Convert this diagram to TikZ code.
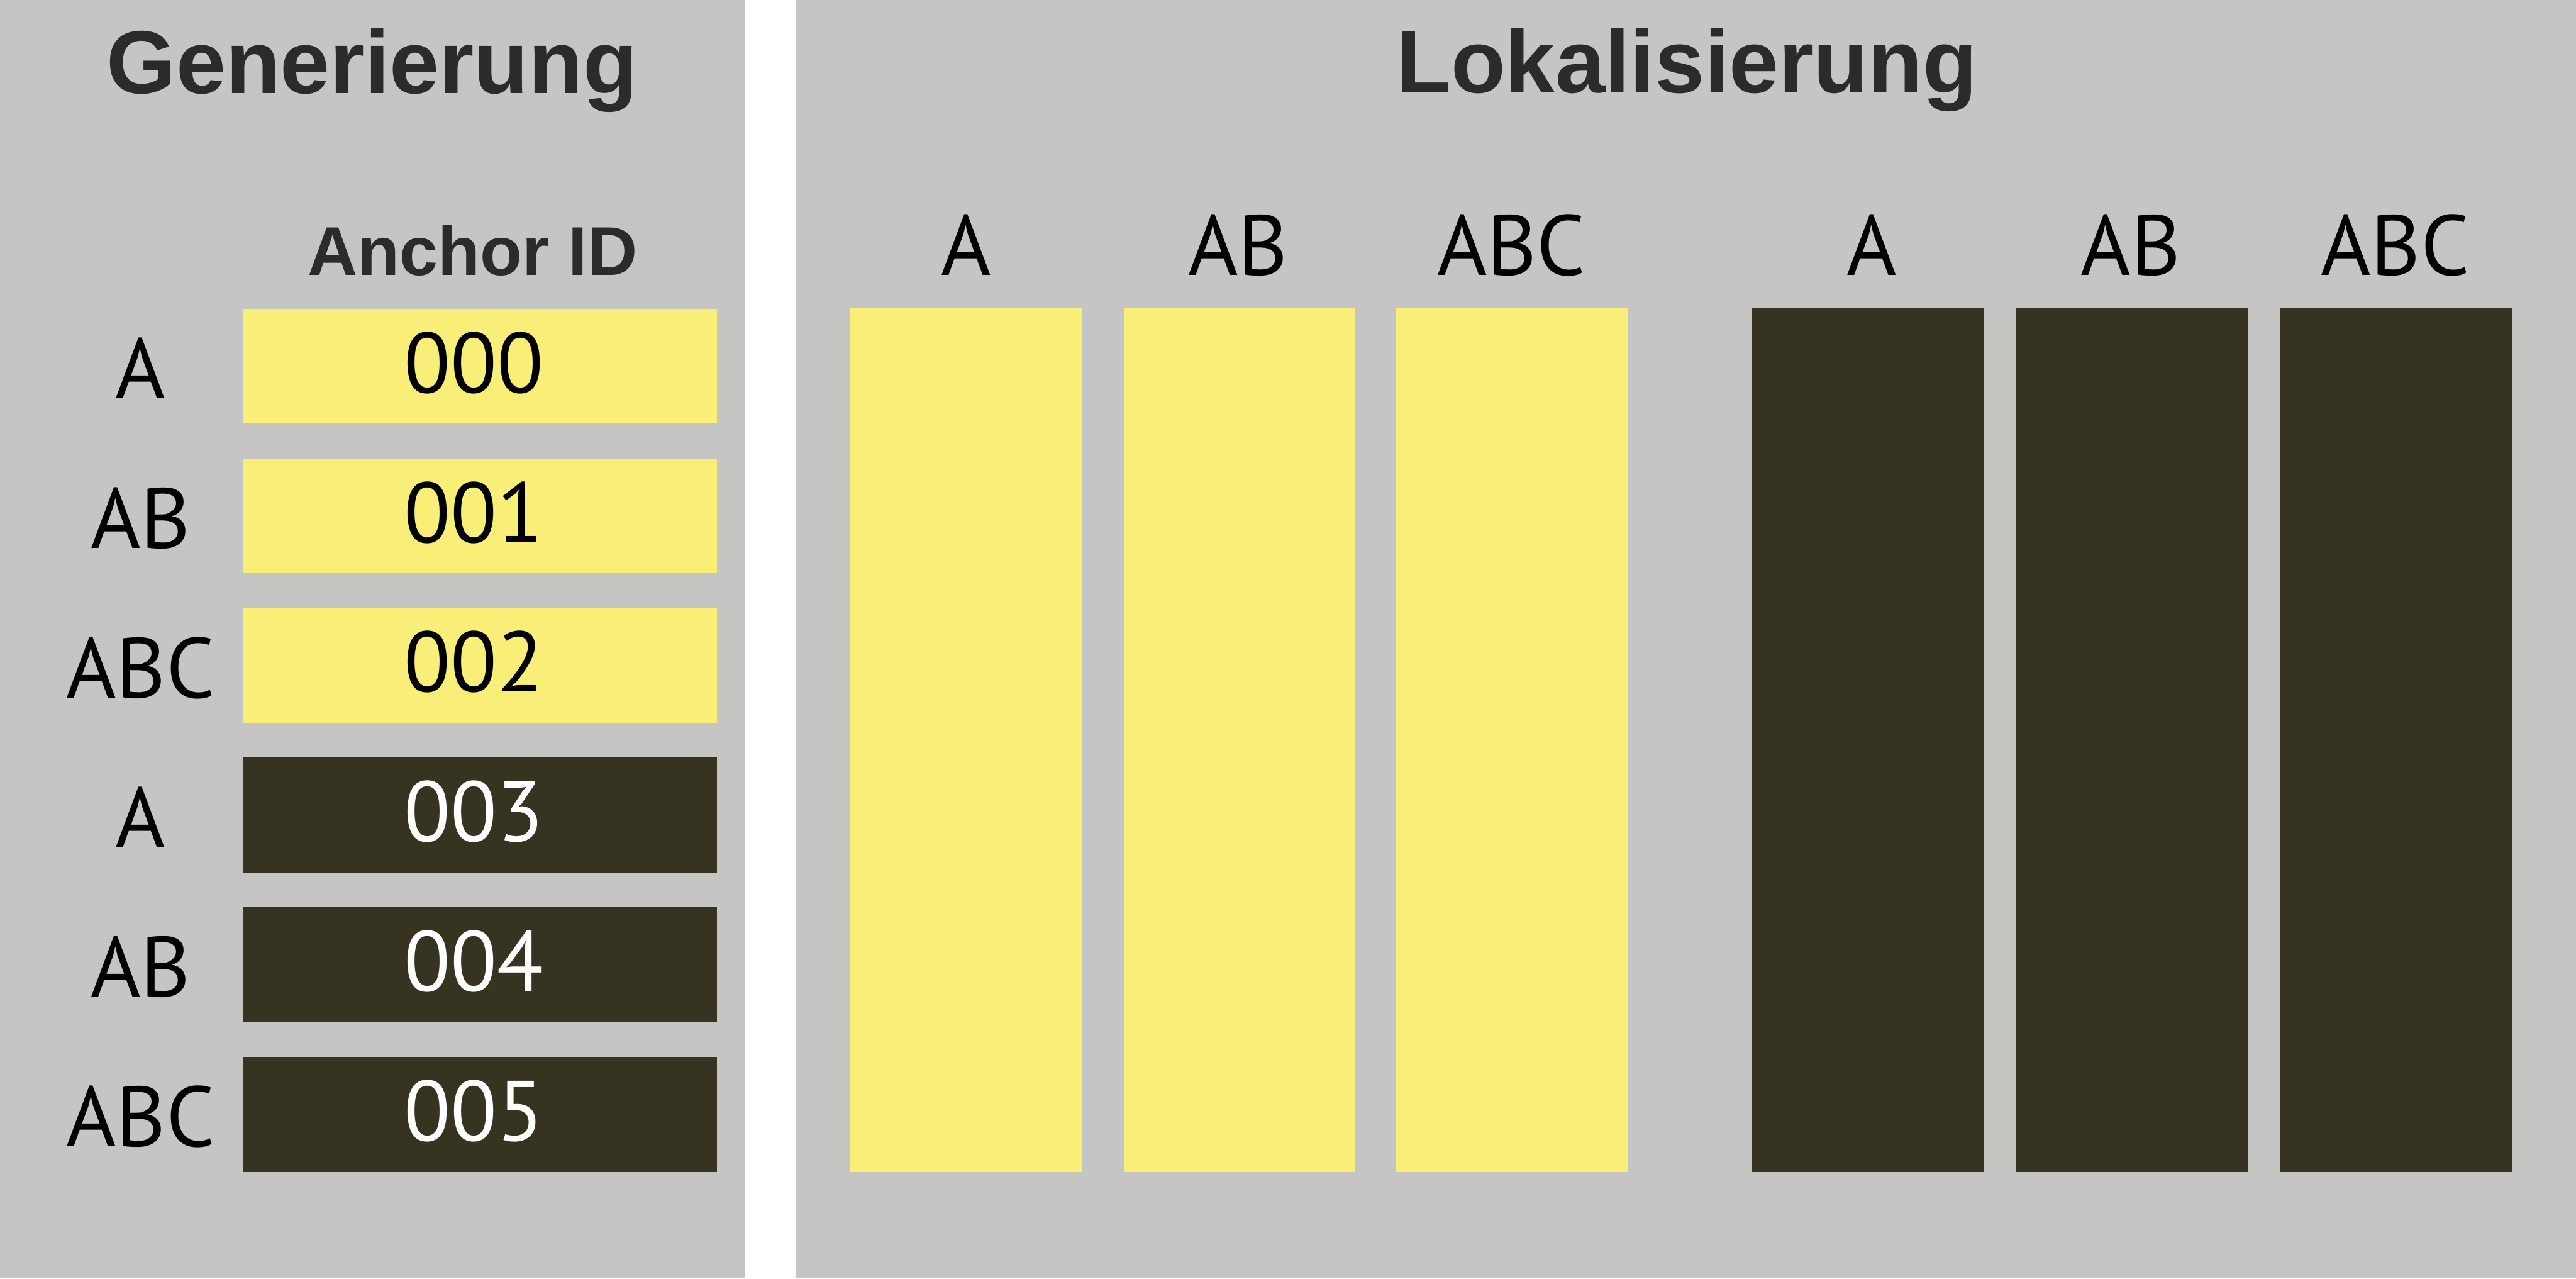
\documentclass[tikz,border=0pt]{standalone}
\usepackage{fontspec}
\newfontfamily\labfont{PT Sans}
\newfontfamily\ttlfont{Liberation Sans}
\definecolor{panelgray}{HTML}{C5C5C3}
\definecolor{idyellow}{HTML}{F9EE78}
\definecolor{iddark}{HTML}{363420}
\definecolor{titlegray}{HTML}{2B2B2B}
\begin{document}
\begin{tikzpicture}[x=0.5pt,y=-0.5pt,
  panel/.style={fill=panelgray, draw=none},
  titletext/.style={anchor=base, inner sep=0, text=titlegray, font=\ttlfont\bfseries\fontsize{27.2}{30}\selectfont},
  headtext/.style={anchor=base, inner sep=0, text=titlegray, font=\ttlfont\bfseries\fontsize{21}{24}\selectfont},
  labtext/.style={anchor=base, inner sep=0, font=\labfont\fontsize{26}{28}\selectfont},
  idbox/.style={rectangle, draw=none, inner sep=0, anchor=north west, minimum width=144.25pt, minimum height=35pt},
  barbox/.style={rectangle, draw=none, inner sep=0, anchor=north west, minimum width=70.5pt, minimum height=262.8pt}]
\useasboundingbox (0,0) rectangle (1568,778);
\fill[white] (0,0) rectangle (1568,778);
\fill[panel] (0,0) rectangle (453.5,778);
\fill[panel] (484.7,0) rectangle (1568,778);
% titles
\node[titletext] (gen) at (226.6,56.8) {Generierung};
\node[titletext] (lok) at (1026.8,56.6) {Lokalisierung};
\node[headtext] (anchorid) at (287.6,167.5) {Anchor ID};
% generation rows
\foreach \i/\lbl/\fc/\tc in {0/A/idyellow/black, 1/AB/idyellow/black, 2/ABC/idyellow/black, 3/A/iddark/white, 4/AB/iddark/white, 5/ABC/iddark/white} {
  \pgfmathsetmacro\ytop{187.4+91.08*\i}
  \node[idbox, fill=\fc] (id\i) at (147.5,\ytop) {};
  \node[labtext, text=\tc] (num\i) at (288.5,{\ytop+51.5}) {00\i};
  \node[labtext] (row\i) at (85.6,{\ytop+55}) {\lbl};
}
% localisation bars
\foreach \j/\xl/\xc/\lbl/\fc in {0/517.3/588/A/idyellow, 1/683.5/753.6/AB/idyellow, 2/849.4/920/ABC/idyellow, 3/1066/1139.5/A/iddark, 4/1226.9/1297/AB/iddark, 5/1387.4/1458/ABC/iddark} {
  \node[barbox, fill=\fc] (bar\j) at (\xl,187.2) {};
  \node[labtext] (bh\j) at (\xc,167.6) {\lbl};
}
\end{tikzpicture}
\end{document}
